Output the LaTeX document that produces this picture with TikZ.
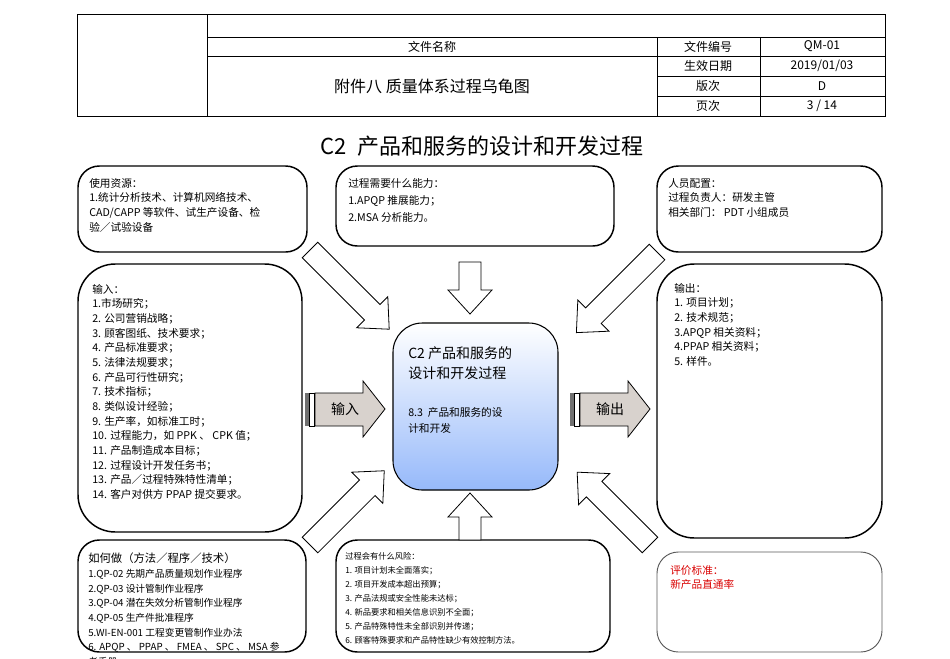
\documentclass[tikz,border=0pt]{standalone}
\usepackage{fontspec}
\setmainfont{Noto Sans CJK SC}
\definecolor{cblue}{RGB}{150,185,250}
\begin{document}
\begin{tikzpicture}[x=0.75pt,y=-0.75pt,
 box/.style={draw=black,line width=1.1pt,rounded corners=16pt},
 txt/.style={anchor=north west,align=left,inner sep=0pt,font=\fontsize{8}{11}\selectfont},
 harrow/.style={draw=black,line width=0.6pt,fill=white},
 cell/.style={inner sep=0pt,font=\fontsize{9}{10}\selectfont}]
\useasboundingbox (0,0) rectangle (950,658);
% header
\draw[line width=0.6pt] (77,14) rectangle (885,116);
\draw[line width=0.6pt] (207,14) -- (207,116) (207,37) -- (885,37) (207,56) -- (885,56)
 (657,37) -- (657,116) (760,37) -- (760,116) (657,76) -- (885,76) (657,96) -- (885,96);
\node[cell] (h1) at (432,46.5) {文件名称};
\node[cell,font=\fontsize{12}{13}\selectfont] (h2) at (432,86) {附件八 质量体系过程乌龟图};
\node[cell] (h3) at (708,46.5) {文件编号};
\node[cell] (h4) at (822,46.5) {QM-01};
\node[cell] (h5) at (708,66) {生效日期};
\node[cell] (h6) at (822,66) {2019/01/03};
\node[cell] (h7) at (708,86) {版次};
\node[cell] (h8) at (822,86) {D};
\node[cell] (h9) at (708,106) {页次};
\node[cell] (h10) at (822,106) {3 / 14};
\node[inner sep=0pt,font=\fontsize{16.5}{18}\selectfont] (title) at (482,146) {C2\ \ 产品和服务的设计和开发过程};
% boxes
\draw[box] (78,166) rectangle (307,252);
\node[txt] (t1) at (89,178) {使用资源：\\1.统计分析技术、计算机网络技术、\\CAD/CAPP 等软件、试生产设备、检\\验／试验设备};
\draw[box] (336,166) rectangle (614,246);
\node[txt] (t2) at (348,178) {过程需要什么能力：\\[2pt]1.APQP 推展能力；\\[2pt]2.MSA 分析能力。};
\draw[box] (657,166) rectangle (882,252);
\node[txt] (t3) at (668,178) {人员配置：\\过程负责人：研发主管\\相关部门： PDT 小组成员};
\draw[box,rounded corners=28pt] (78,264) rectangle (302,532);
\node[txt,font=\fontsize{8}{11}\selectfont] (t4) at (92,284) {输入：\\1.市场研究；\\2. 公司营销战略；\\3. 顾客图纸、技术要求；\\4. 产品标准要求；\\5. 法律法规要求；\\6. 产品可行性研究；\\7. 技术指标；\\8. 类似设计经验；\\9. 生产率，如标准工时；\\10. 过程能力，如 PPK 、 CPK 值；\\11. 产品制造成本目标；\\12. 过程设计开发任务书；\\13. 产品／过程特殊特性清单；\\14. 客户对供方 PPAP 提交要求。};
\draw[box,rounded corners=28pt] (657,264) rectangle (882,538);
\node[txt] (t5) at (674,283) {输出：\\1. 项目计划；\\2. 技术规范；\\3.APQP 相关资料；\\4.PPAP 相关资料；\\5. 样件。};
\draw[box] (78,540) rectangle (306,652);
\node[txt,font=\fontsize{7.3}{11}\selectfont] (t6) at (88,553) {{\fontsize{8.5}{11}\selectfont 如何做（方法／程序／技术）}\\1.QP-02 先期产品质量规划作业程序\\2.QP-03 设计管制作业程序\\3.QP-04 潜在失效分析管制作业程序\\4.QP-05 生产件批准程序\\5.WI-EN-001 工程变更管制作业办法\\6. APQP 、 PPAP 、 FMEA 、 SPC 、 MSA 参\\考手册};
\draw[box] (336,540) rectangle (610,652);
\node[txt,font=\fontsize{6.2}{10.5}\selectfont] (t7) at (345,552) {过程会有什么风险：\\1. 项目计划未全面落实；\\2. 项目开发成本超出预算；\\3. 产品法规或安全性能未达标；\\4. 新品要求和相关信息识别不全面；\\5. 产品特殊特性未全部识别并传递；\\6. 顾客特殊要求和产品特性缺少有效控制方法。};
\draw[draw=gray!70!black,line width=0.7pt,rounded corners=16pt] (657,552) rectangle (882,652);
\node[txt,text=red!85!black] (t8) at (670,565) {评价标准：\\新产品直通率};
% center
\shade[top color=white,bottom color=cblue,rounded corners=22pt,draw=black,line width=0.8pt] (393,323) rectangle (558,490);
\node[txt,font=\fontsize{10.5}{15}\selectfont] (c1) at (408,346) {C2 产品和服务的\\设计和开发过程};
\node[txt,font=\fontsize{8}{12}\selectfont] (c2) at (408,407) {8.3\ \ 产品和服务的设\\计和开发};
% hollow arrows
\foreach \x/\y/\a/\L in {310/250/-45/112, 470/262/-90/52, 657/252/-135/114, 310/545/45/105, 470/540/90/47, 650/545/135/103}{
 \draw[harrow,shift={(\x,\y)},rotate=\a] (0,-11) -- (\L-24,-11) -- (\L-24,-22) -- (\L,0) -- (\L-24,22) -- (\L-24,11) -- (0,11) -- cycle;
}
% input/output arrows
\foreach \x/\t in {305/输入,570/输出}{
 \fill[gray!60!black!80] (\x,393) rectangle (\x+4,426);
 \draw[fill=white,line width=0.4pt] (\x+4,393) rectangle (\x+9,426);
 \draw[fill=brown!25!gray!35,line width=0.6pt] (\x+10,393) -- (\x+58,393) -- (\x+58,381) -- (\x+80,409) -- (\x+58,437) -- (\x+58,426) -- (\x+10,426) -- cycle;
 \node[font=\fontsize{10.5}{12}\selectfont] at (\x+40,409.5) {\t};
}
\end{tikzpicture}
\end{document}
